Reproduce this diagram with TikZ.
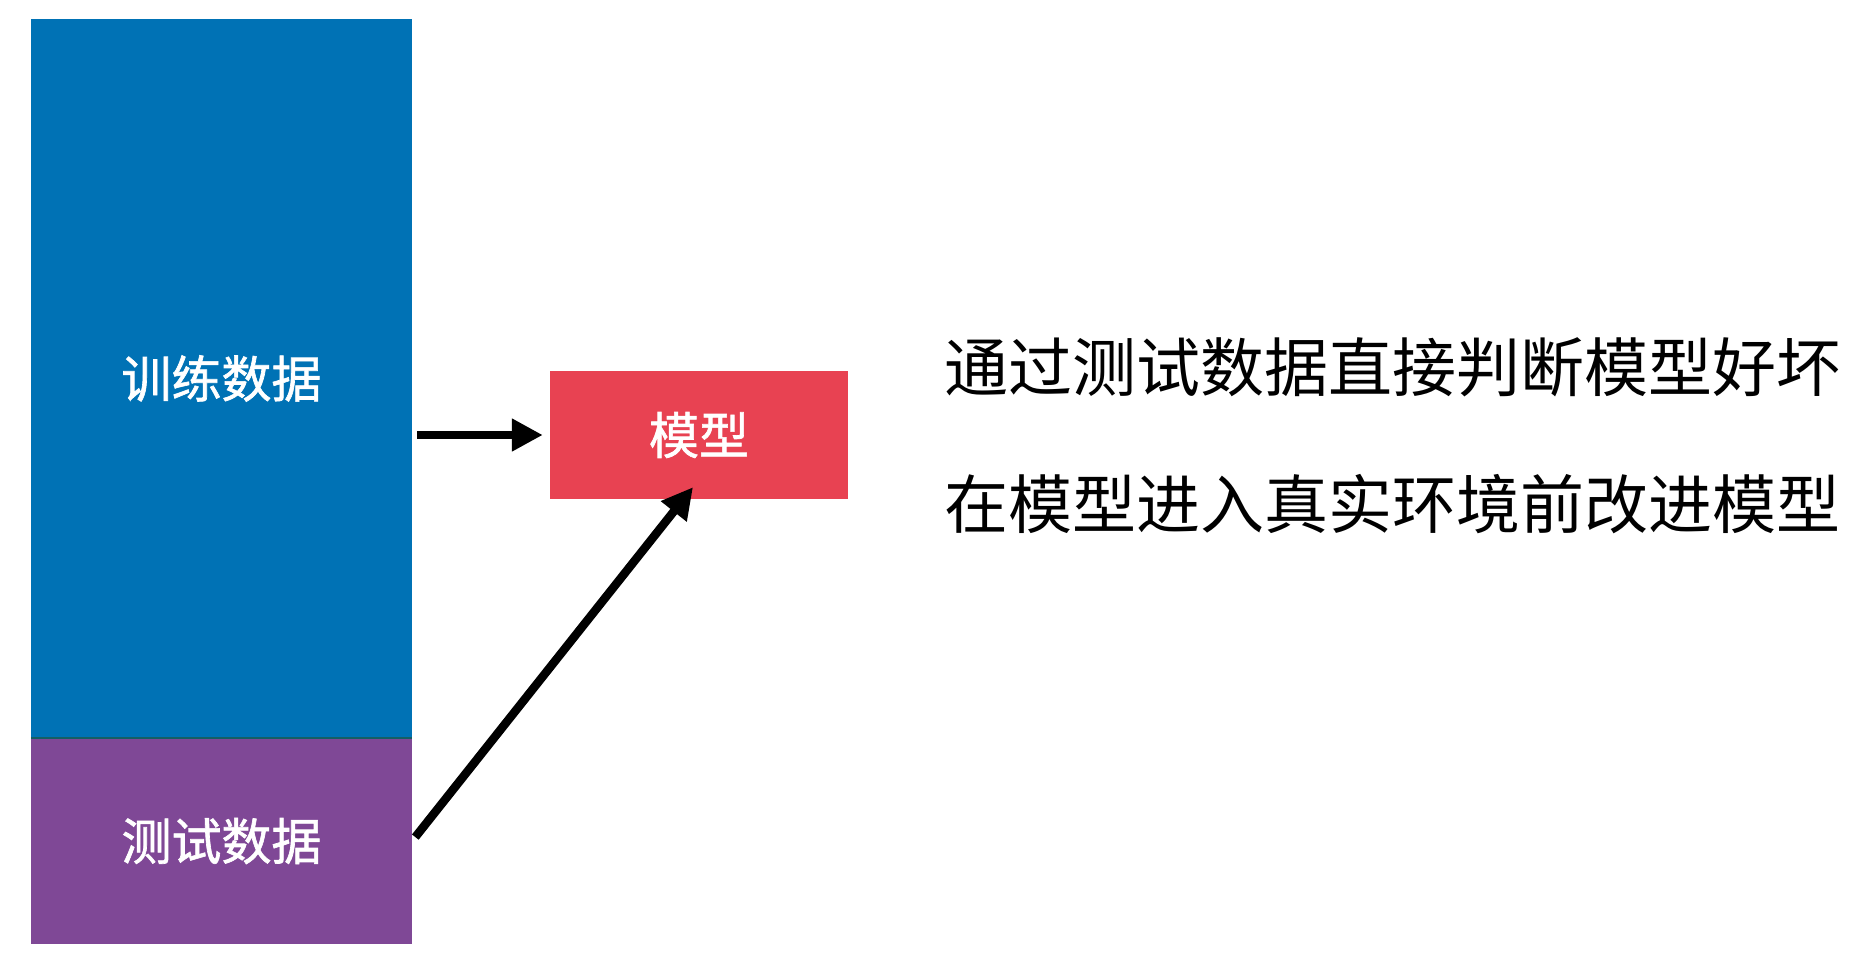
\documentclass[tikz,border=0pt]{standalone}
\usepackage{fontspec}
\setmainfont{Noto Sans CJK SC}
\newfontfamily\cjkmedium{Noto Sans CJK SC}[FakeBold=1.3]
\usetikzlibrary{arrows.meta,positioning}

\definecolor{trainblue}{RGB}{0,114,181}
\definecolor{testpurple}{RGB}{127,72,150}
\definecolor{modelred}{RGB}{232,66,82}
\definecolor{edgeteal}{RGB}{20,95,100}

\tikzset{
    databox/.style={rectangle, inner sep=0pt, text=white, minimum width=381pt,
        font=\fontsize{50}{60}\selectfont\cjkmedium},
    modelbox/.style={rectangle, inner sep=0pt, fill=modelred, text=white,
        minimum width=298pt, minimum height=128pt, font=\fontsize{50}{60}\selectfont\cjkmedium},
    note/.style={anchor=west, inner sep=0pt, font=\fontsize{64}{76}\selectfont},
    flow/.style={-{Triangle[length=31pt,width=31pt]}, line width=8.5pt, black}
}

\begin{document}
\begin{tikzpicture}[x=1pt,y=-1pt]
    \useasboundingbox (0,0) rectangle (1858,966);
    % Blocchi dati
    \node (train) [databox, fill=trainblue, minimum height=719pt] at (221.5,378.5) {训练数据};
    \node (test) [databox, fill=testpurple, minimum height=206pt] at (221.5,841) {测试数据};
    \draw [edgeteal, line width=1.5pt] (train.south west) -- (train.south east);
    % Modello
    \node (model) [modelbox] at (699,435) {模型};
    % Frecce
    \draw [flow, shorten <=5pt, shorten >=7pt] (train.east |- model.west) -- (model.west);
    \coordinate (tip) at ([xshift=-6pt,yshift=12pt]model.south);
    \draw [flow, shorten <=5pt] (test.east) -- (tip);
    % Testo
    \node (line1) [note] at (944,367) {通过测试数据直接判断模型好坏};
    \node (line2) [note] at (944,504) {在模型进入真实环境前改进模型};
\end{tikzpicture}
\end{document}
